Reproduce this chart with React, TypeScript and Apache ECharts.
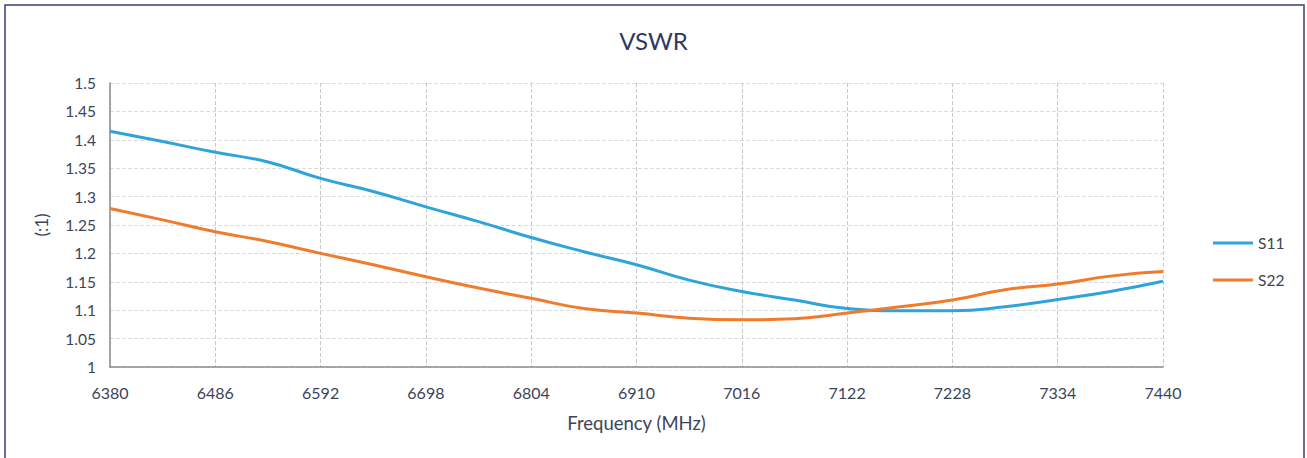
import React, { useEffect, useRef } from "react";
import * as echarts from "echarts";

const frequencies = [
  "6380", "6433", "6486", "6539", "6592", "6645", "6698", "6751", "6804", "6857", "6910",
  "6963", "7016", "7069", "7122", "7175", "7228", "7281", "7334", "7387", "7440",
];
const s11 = [
  1.415, 1.397, 1.378, 1.361, 1.332, 1.309, 1.282, 1.256, 1.228, 1.203, 1.18,
  1.153, 1.133, 1.118, 1.103, 1.099, 1.099, 1.106, 1.119, 1.133, 1.151,
];
const s22 = [
  1.279, 1.259, 1.238, 1.221, 1.2, 1.18, 1.159, 1.139, 1.121, 1.103, 1.095,
  1.086, 1.083, 1.085, 1.095, 1.106, 1.118, 1.136, 1.146, 1.16, 1.168,
];
const yTicks = { min: 1, max: 1.5, interval: 0.05 };

const FONT = "Lato, 'Open Sans', sans-serif";
const TEXT = "#3d4459";

export default function App() {
  const ref = useRef<HTMLDivElement>(null);
  useEffect(() => {
    if (!ref.current) return;
    const chart = echarts.init(ref.current, null, { renderer: "svg" });
    chart.setOption({
      animation: false,
      backgroundColor: "#ffffff",
      title: {
        text: "VSWR",
        left: "center",
        top: 23,
        textStyle: { color: "#2c3a63", fontSize: 24, fontWeight: "normal", fontFamily: FONT },
      },
      graphic: [
        {
          type: "rect",
          shape: { x: 5, y: 5, width: 1299, height: 470 },
          style: { fill: "none", stroke: "#3a3f6e", lineWidth: 1.5 },
          silent: true,
        },
      ],
      legend: {
        orient: "vertical",
        left: 1208,
        top: 230,
        itemWidth: 40,
        itemHeight: 3,
        itemGap: 21,
        icon: "rect",
        textStyle: { color: TEXT, fontSize: 15.5, fontFamily: FONT },
        data: ["S11", "S22"],
      },
      grid: { left: 110, right: 144, top: 83, bottom: 91 },
      xAxis: {
        type: "category",
        data: frequencies,
        boundaryGap: false,
        name: "Frequency (MHz)",
        nameLocation: "middle",
        nameGap: 46,
        nameTextStyle: { color: TEXT, fontSize: 18.5, fontFamily: FONT },
        axisLine: { lineStyle: { color: "#8c8c8c", width: 1.5 } },
        axisTick: { show: false },
        axisLabel: { interval: 1, color: TEXT, fontSize: 16, fontFamily: FONT, margin: 17 },
        splitLine: { show: true, interval: 1, lineStyle: { color: "#c8c8c8", type: "dashed", width: 1 } },
      },
      yAxis: {
        type: "value",
        min: yTicks.min,
        max: yTicks.max,
        interval: yTicks.interval,
        name: "(:1)",
        nameLocation: "middle",
        nameGap: 60,
        nameRotate: 90,
        nameTextStyle: { color: TEXT, fontSize: 17, fontFamily: FONT },
        axisLine: { show: true, lineStyle: { color: "#8c8c8c", width: 1.5 } },
        axisTick: { show: false },
        axisLabel: { color: TEXT, fontSize: 15.5, fontFamily: FONT, margin: 14 },
        splitLine: { lineStyle: { color: "#dcdcdc", type: "dashed", width: 1 } },
      },
      series: [
        {
          name: "S11",
          type: "line",
          data: s11,
          smooth: true,
          symbol: "none",
          lineStyle: { color: "#2ea3dc", width: 3 },
          itemStyle: { color: "#2ea3dc" },
        },
        {
          name: "S22",
          type: "line",
          data: s22,
          smooth: true,
          symbol: "none",
          lineStyle: { color: "#f07b2c", width: 3 },
          itemStyle: { color: "#f07b2c" },
        },
      ],
    });
    return () => chart.dispose();
  }, []);
  return (
    <div
      ref={ref}
      style={{ position: "fixed", left: 0, top: 0, width: 1307, height: 458 }}
    />
  );
}
